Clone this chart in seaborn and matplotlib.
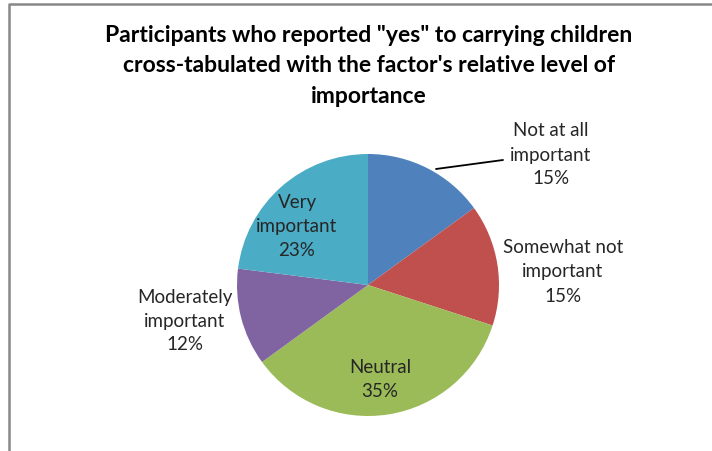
import matplotlib
matplotlib.use("Agg")
import matplotlib.pyplot as plt
import seaborn as sns

# ---- data ----
categories = ["Not at all\nimportant", "Somewhat not\nimportant", "Neutral",
              "Moderately\nimportant", "Very\nimportant"]
percentages = [15, 15, 35, 12, 23]
colors = ["#4F81BD", "#C0504D", "#9BBB59", "#8064A2", "#4BACC6"]
title = 'Participants who reported "yes" to carrying children\ncross-tabulated with the factor\'s relative level of\nimportance'

# ---- layout (pixel coordinates, y measured from top) ----
W, H = 712, 452
center_px = (368, 286)
radius_px = 131
label_pos = [(551, 155), (563, 272), (380, 380), (185, 321), (297, 227)]

sns.set_theme(style="white")
plt.rcParams["font.family"] = ["Lato", "DejaVu Sans"]

fig = plt.figure(figsize=(W / 100, H / 100), dpi=100)
ax = fig.add_axes([0, 0, 1, 1])

ax.pie(percentages, colors=colors, startangle=90, counterclock=False,
       center=(center_px[0], H - center_px[1]), radius=radius_px,
       wedgeprops=dict(linewidth=0))
ax.set_xlim(0, W)
ax.set_ylim(0, H)
ax.set_aspect("auto")
ax.axis("off")

for cat, pct, (x, y) in zip(categories, percentages, label_pos):
    ax.text(x, H - y, f"{cat}\n{pct}%", ha="center", va="center",
            fontsize=13.5, color="#262626", linespacing=1.5)

# leader line for the first label
ax.plot([436, 503], [H - 170, H - 161], color="black", lw=1.3)

fig.text(369 / W, 1 - 66 / H, title, ha="center", va="center",
         fontsize=16.5, fontweight="bold", color="black", linespacing=1.55)

# chart border (left and top visible)
ax.plot([8.5, 8.5, W + 5], [-5, H - 4.5, H - 4.5], color="#888888", lw=1.8,
        clip_on=False)

fig.savefig("out.png", dpi=100)
